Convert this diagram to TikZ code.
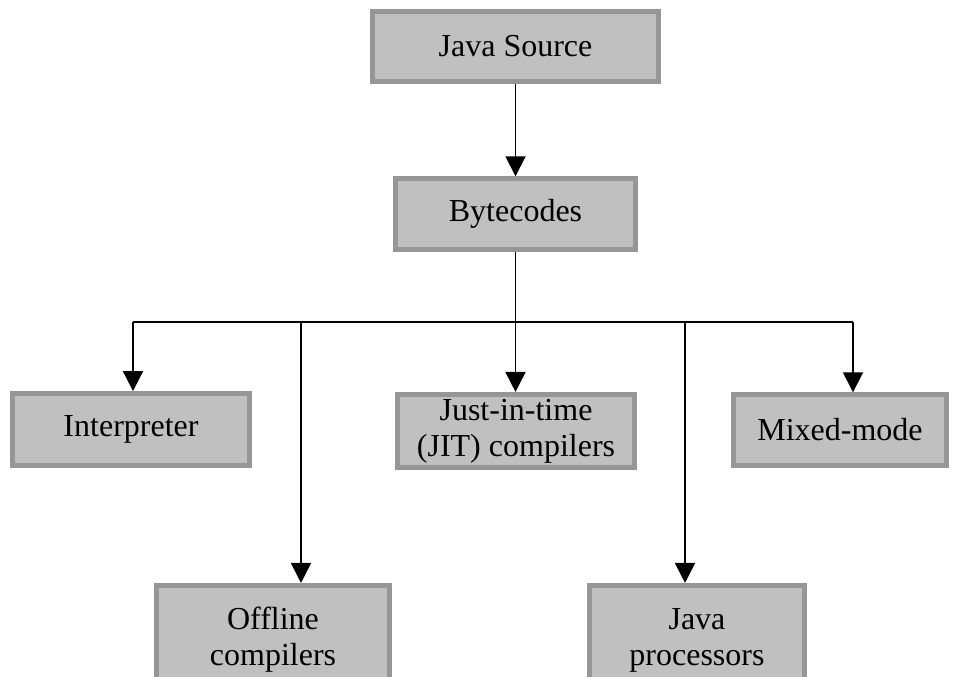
\documentclass[tikz,border=0pt]{standalone}
\usepackage{fontspec}
\setmainfont{Liberation Serif}
\usetikzlibrary{arrows.meta}

\definecolor{boxfill}{HTML}{C0C0C0}
\definecolor{boxline}{HTML}{969696}

\begin{document}
\begin{tikzpicture}[x=0.75pt,y=-0.75pt,
	box/.style={draw=boxline, fill=boxfill, line width=3.6pt, align=center,
		inner sep=0pt, font=\fontsize{24}{27}\selectfont},
	arr/.style={line width=1.4pt, -{Triangle[width=15pt,length=15pt]}},
	wire/.style={line width=1.4pt}
	]
	% page frame
	\clip (0,0) rectangle (963,677);
	\fill[white] (0,0) rectangle (963,677);
	
	% the boxes
	\node[box, minimum width=214pt, minimum height=53pt] (src) at (515.5,46.5) {Java Source};
	\node[box, minimum width=180pt, minimum height=53pt] (byte) at (515.5,214) {Bytecodes};
	\node[box, minimum width=178pt, minimum height=54pt] (interp) at (131,429.5) {Interpreter};
	\node[box, minimum width=178pt, minimum height=55pt] (jit) at (516,431) {Just-in-time\\(JIT) compilers};
	\node[box, minimum width=160pt, minimum height=53pt] (mixed) at (840,430) {Mixed-mode};
	\node[box, minimum width=175pt, minimum height=82pt] (offline) at (273,640) {Offline\\compilers};
	\node[box, minimum width=161pt, minimum height=82pt] (proc) at (697,640) {Java\\processors};
	
	% bus under the bytecodes
	\coordinate (busL) at (133,322);
	\coordinate (busR) at (853,322);
	\coordinate (tapOff) at (301,322);
	\coordinate (tapProc) at (685,322);
	
	\draw[arr] (src.south) -- (byte.north);
	\draw[wire] (byte.south) -- (byte.south |- busL);
	\draw[wire] (busL) -- (busR);
	\draw[arr] (busL) -- (busL |- interp.north);
	\draw[arr] (tapOff) -- (tapOff |- offline.north);
	\draw[arr] (byte.south |- busL) -- (byte.south |- jit.north);
	\draw[arr] (tapProc) -- (tapProc |- proc.north);
	\draw[arr] (busR) -- (busR |- mixed.north);
\end{tikzpicture}
\end{document}
